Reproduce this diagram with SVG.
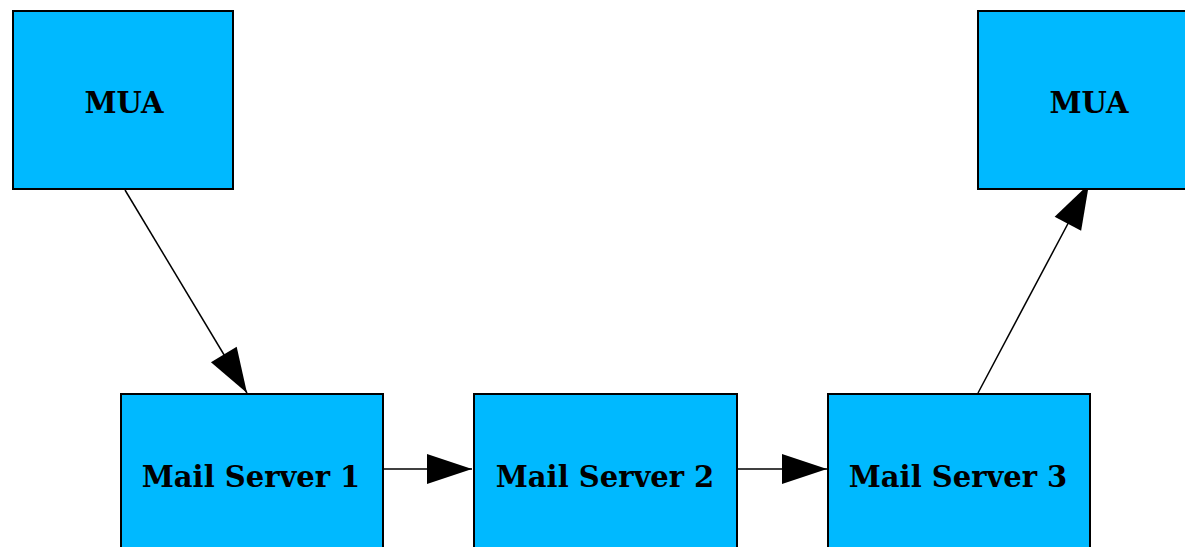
<svg xmlns="http://www.w3.org/2000/svg" width="1185" height="547" viewBox="0 0 1185 547">
  <style>
    .node rect { fill: #00b9ff; stroke: #000; stroke-width: 2; }
    .node text { font-family: "DejaVu Serif", "Liberation Serif", serif; font-weight: bold; font-size: 29px; fill: #000; text-anchor: middle; }
    .edge { stroke: #000; stroke-width: 1.5; fill: none; marker-end: url(#arrow); }
  </style>
  <defs>
    <marker id="arrow" markerUnits="userSpaceOnUse" markerWidth="46" markerHeight="32" refX="45" refY="16" orient="auto" overflow="visible">
      <path d="M0,1 L45,16 L0,31 Z" fill="#000"/>
    </marker>
  </defs>
  <rect width="1185" height="547" fill="#fff"/>

  <g id="connectors">
    <line class="edge" x1="125" y1="190" x2="247" y2="393"/>
    <line class="edge" x1="383" y1="469" x2="472" y2="469"/>
    <line class="edge" x1="737" y1="469" x2="827" y2="469"/>
    <line class="edge" x1="978" y1="393" x2="1089" y2="184"/>
  </g>

  <g id="mua-sender" class="node">
    <rect x="13" y="11" width="220" height="178"/>
    <text x="124" y="113">MUA</text>
  </g>
  <g id="mua-recipient" class="node">
    <rect x="978" y="11" width="220" height="178"/>
    <text x="1089" y="113">MUA</text>
  </g>
  <g id="mail-server-1" class="node">
    <rect x="121" y="394" width="262" height="170"/>
    <text x="251" y="487">Mail Server 1</text>
  </g>
  <g id="mail-server-2" class="node">
    <rect x="474" y="394" width="263" height="170"/>
    <text x="605" y="487">Mail Server 2</text>
  </g>
  <g id="mail-server-3" class="node">
    <rect x="828" y="394" width="262" height="170"/>
    <text x="958" y="487">Mail Server 3</text>
  </g>
</svg>
